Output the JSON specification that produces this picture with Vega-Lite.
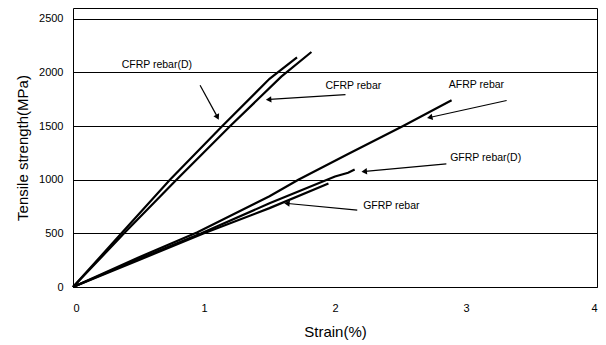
{
  "$schema": "https://vega.github.io/schema/vega-lite/v6.json",
  "width": 524,
  "height": 279,
  "autosize": "none",
  "padding": {"left": 73, "top": 8, "right": 9, "bottom": 58},
  "background": "white",
  "config": {
    "font": "Liberation Sans",
    "view": {"stroke": "black", "strokeWidth": 1},
    "axis": {"labelFont": "Liberation Sans", "titleFont": "Liberation Sans", "labelColor": "black", "titleColor": "black", "titleFontWeight": "normal", "domain": false}
  },
  "datasets": {
    "curves": [
      {"series": "CFRP rebar(D)", "strain": 0, "stress": 0},
      {"series": "CFRP rebar(D)", "strain": 0.37, "stress": 500},
      {"series": "CFRP rebar(D)", "strain": 0.74, "stress": 1000},
      {"series": "CFRP rebar(D)", "strain": 1.14, "stress": 1500},
      {"series": "CFRP rebar(D)", "strain": 1.5, "stress": 1940},
      {"series": "CFRP rebar(D)", "strain": 1.71, "stress": 2140},
      {"series": "CFRP rebar", "strain": 0, "stress": 0},
      {"series": "CFRP rebar", "strain": 0.39, "stress": 500},
      {"series": "CFRP rebar", "strain": 0.79, "stress": 1000},
      {"series": "CFRP rebar", "strain": 1.2, "stress": 1500},
      {"series": "CFRP rebar", "strain": 1.59, "stress": 1960},
      {"series": "CFRP rebar", "strain": 1.82, "stress": 2190},
      {"series": "AFRP rebar", "strain": 0, "stress": 0},
      {"series": "AFRP rebar", "strain": 0.5, "stress": 275},
      {"series": "AFRP rebar", "strain": 0.95, "stress": 510},
      {"series": "AFRP rebar", "strain": 1.5, "stress": 845},
      {"series": "AFRP rebar", "strain": 1.72, "stress": 1000},
      {"series": "AFRP rebar", "strain": 2.1, "stress": 1240},
      {"series": "AFRP rebar", "strain": 2.52, "stress": 1500},
      {"series": "AFRP rebar", "strain": 2.89, "stress": 1740},
      {"series": "GFRP rebar(D)", "strain": 0, "stress": 0},
      {"series": "GFRP rebar(D)", "strain": 0.5, "stress": 260},
      {"series": "GFRP rebar(D)", "strain": 0.98, "stress": 500},
      {"series": "GFRP rebar(D)", "strain": 1.5, "stress": 780},
      {"series": "GFRP rebar(D)", "strain": 2.0, "stress": 1030},
      {"series": "GFRP rebar(D)", "strain": 2.1, "stress": 1065},
      {"series": "GFRP rebar(D)", "strain": 2.15, "stress": 1095},
      {"series": "GFRP rebar", "strain": 0, "stress": 0},
      {"series": "GFRP rebar", "strain": 0.5, "stress": 250},
      {"series": "GFRP rebar", "strain": 1.0, "stress": 500},
      {"series": "GFRP rebar", "strain": 1.5, "stress": 735},
      {"series": "GFRP rebar", "strain": 1.95, "stress": 965}
    ],
    "notes": [
      {"label": "CFRP rebar(D)", "tx": 0.64, "ty": 2070, "x1": 0.97, "y1": 1880, "x2": 1.1, "y2": 1590, "dir": 153},
      {"label": "CFRP rebar", "tx": 2.14, "ty": 1873, "x1": 2.08, "y1": 1792, "x2": 1.5, "y2": 1748, "dir": 266},
      {"label": "AFRP rebar", "tx": 3.08, "ty": 1882, "x1": 3.31, "y1": 1738, "x2": 2.73, "y2": 1582, "dir": 257},
      {"label": "GFRP rebar(D)", "tx": 3.15, "ty": 1200, "x1": 2.85, "y1": 1147, "x2": 2.23, "y2": 1077, "dir": 265},
      {"label": "GFRP rebar", "tx": 2.43, "ty": 753, "x1": 2.17, "y1": 717, "x2": 1.64, "y2": 778, "dir": 276}
    ]
  },
  "layer": [
    {
      "data": {"name": "curves"},
      "mark": {"type": "line", "color": "black", "strokeWidth": 2.2},
      "encoding": {
        "x": {"field": "strain", "type": "quantitative", "scale": {"domain": [0, 4]},
          "axis": {"title": "Strain(%)", "values": [0, 1, 2, 3, 4], "format": "d", "grid": false, "ticks": false, "labelFontSize": 11, "labelPadding": 15, "titleFontSize": 15, "titlePadding": 11}},
        "y": {"field": "stress", "type": "quantitative", "scale": {"domain": [0, 2500]},
          "axis": {"title": "Tensile strength(MPa)", "values": [0, 500, 1000, 1500, 2000, 2500], "format": "d", "grid": true, "gridColor": "black", "gridWidth": 1, "gridOpacity": 1, "ticks": false, "labelFontSize": 11, "labelPadding": 10, "titleFontSize": 15, "titlePadding": 8}},
        "detail": {"field": "series"}
      }
    },
    {
      "data": {"name": "notes"},
      "mark": {"type": "rule", "color": "black", "strokeWidth": 1.2},
      "encoding": {
        "x": {"field": "x1", "type": "quantitative"},
        "y": {"field": "y1", "type": "quantitative"},
        "x2": {"field": "x2"},
        "y2": {"field": "y2"}
      }
    },
    {
      "data": {"name": "notes"},
      "mark": {"type": "point", "shape": "triangle", "filled": true, "color": "black", "size": 40, "opacity": 1},
      "encoding": {
        "x": {"field": "x2", "type": "quantitative"},
        "y": {"field": "y2", "type": "quantitative"},
        "angle": {"field": "dir", "type": "quantitative", "scale": null}
      }
    },
    {
      "data": {"name": "notes"},
      "mark": {"type": "text", "font": "Liberation Sans", "fontSize": 10.5, "color": "black", "align": "center", "baseline": "middle"},
      "encoding": {
        "x": {"field": "tx", "type": "quantitative"},
        "y": {"field": "ty", "type": "quantitative"},
        "text": {"field": "label"}
      }
    }
  ]
}
